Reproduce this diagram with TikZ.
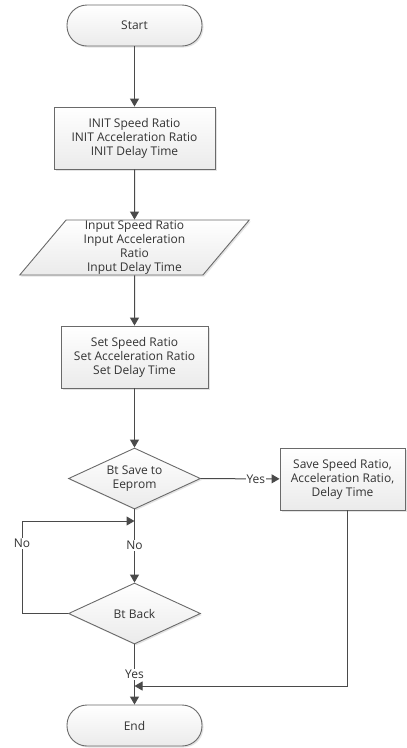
\documentclass[tikz,border=0pt]{standalone}
\usepackage{fontspec}
\setmainfont{Open Sans}
\usetikzlibrary{shapes.geometric, arrows.meta, shadows, positioning}
\definecolor{lineclr}{HTML}{4A4A4A}
\definecolor{edgeclr}{HTML}{6A6A6A}
\definecolor{txtclr}{HTML}{333333}

\tikzset{
  shapebase/.style={draw=edgeclr, line width=0.9pt, top color=white, bottom color=black!8,
    text=txtclr, align=center, font=\fontsize{12}{14}\selectfont, inner sep=0pt,
    drop shadow={opacity=0.22, shadow xshift=1.5pt, shadow yshift=-1.5pt}},
  terminal/.style={shapebase, rectangle, rounded corners=20pt, minimum width=135pt, minimum height=41pt},
  process/.style={shapebase, rectangle, minimum height=62pt},
  io/.style={shapebase, trapezium, trapezium left angle=57.5, trapezium right angle=122.5,
    trapezium stretches=true, minimum width=230pt, minimum height=55pt},
  decision/.style={shapebase, diamond, aspect=2.16, minimum width=132pt, minimum height=61pt},
  flow/.style={draw=lineclr, line width=1pt, -{Triangle[length=8pt,width=9pt]}},
  link/.style={draw=lineclr, line width=1pt},
  tag/.style={fill=white, text=txtclr, font=\fontsize{12}{14}\selectfont, inner sep=1pt}
}

\begin{document}
\begin{tikzpicture}[x=1pt, y=-1pt]
\useasboundingbox (0,0) rectangle (407,748);

\node[terminal] (start) at (134.5,25.5) {Start};
\node[process, minimum width=161pt] (init) at (134.5,138) {INIT Speed Ratio\\INIT Acceleration Ratio\\INIT Delay Time};
\node[io] (input) at (134.5,247.5) {Input Speed Ratio\\Input Acceleration\\Ratio\\Input Delay Time};
\node[process, minimum width=147pt] (set) at (134.5,357) {Set Speed Ratio\\Set Acceleration Ratio\\Set Delay Time};
\node[decision] (save) at (134.5,478.5) {Bt Save to\\Eeprom};
\node[process, minimum width=125pt] (store) at (342.5,479) {Save Speed Ratio,\\Acceleration Ratio,\\Delay Time};
\node[decision] (back) at (134.5,613.5) {Bt Back};
\node[terminal] (end) at (134.5,725.5) {End};

% junctions on the main line
\coordinate (loop) at (134.5,521);
\coordinate (corner) at (22,521);
\coordinate (merge) at (134.5,686);

\draw[flow] (start) -- (init);
\draw[flow] (init) -- (input);
\draw[flow] (input) -- (set);
\draw[flow] (set) -- (save);
\draw[flow] (save) -- node[tag, pos=0.7] {Yes} (store);
\draw[link] (save) -- (loop);
\draw[flow] (loop) -- node[tag, pos=0.4] {No} (back);
\draw[flow] (back.west) -| node[tag, pos=0.88] {No} (corner) -- (loop);
\draw[flow] (back) -- node[tag] {Yes} (end);
\draw[flow] ([xshift=4.5pt]store.south) |- (merge);
\end{tikzpicture}
\end{document}
